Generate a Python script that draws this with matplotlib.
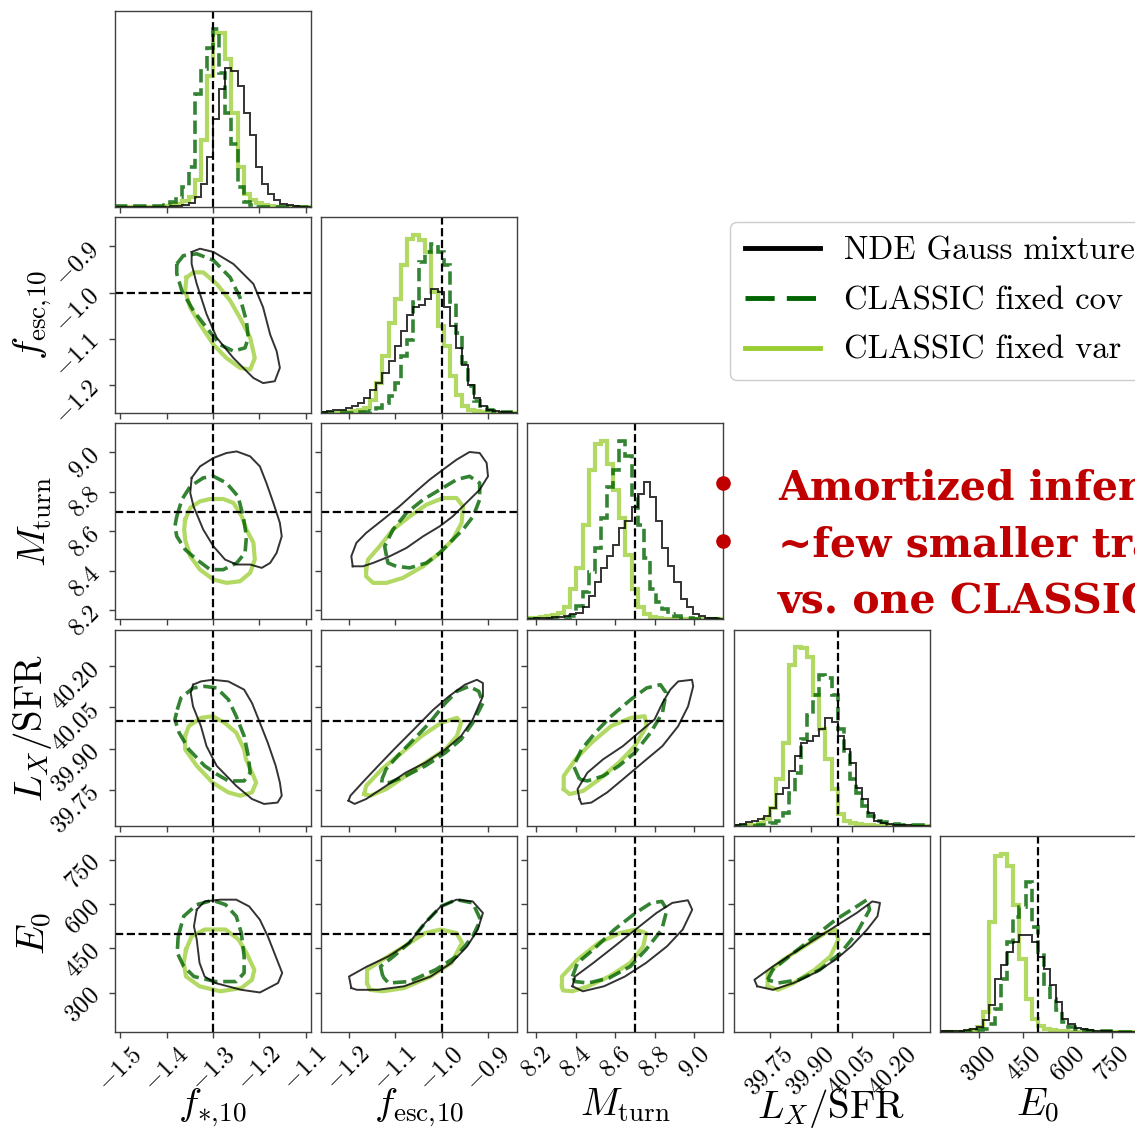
import numpy as np
import matplotlib
matplotlib.use('Agg')
import matplotlib.pyplot as plt
from matplotlib.lines import Line2D

plt.rcParams['font.family'] = 'serif'
plt.rcParams['font.serif'] = ['cmr10', 'DejaVu Serif']
plt.rcParams['mathtext.fontset'] = 'cm'
plt.rcParams['axes.unicode_minus'] = False
plt.rcParams['axes.linewidth'] = 1.0
plt.rcParams['axes.edgecolor'] = '0.25'

# parametres, verites, bornes des axes
labels = [r'$f_{*,\!10}$', r'$f_{\rm esc,\!10}$', r'$M_{\rm turn}$', r'$L_X/{\rm SFR}$', r'$E_0$']
truths = [-1.3, -1.0, 8.7, 40.0, 500]
ranges = [(-1.511, -1.089), (-1.260, -0.837), (8.154, 9.147), (39.619, 40.334), (168, 831)]
ticks = [[-1.5, -1.4, -1.3, -1.2, -1.1], [-1.2, -1.1, -1.0, -0.9], [8.2, 8.4, 8.6, 8.8, 9.0],
         [39.75, 39.90, 40.05, 40.20], [300, 450, 600, 750]]
tick_labels = [['-1.5', '-1.4', '-1.3', '-1.2', '-1.1'], ['-1.2', '-1.1', '-1.0', '-0.9'],
               ['8.2', '8.4', '8.6', '8.8', '9.0'], ['39.75', '39.90', '40.05', '40.20'],
               ['300', '450', '600', '750']]
series_names = ['NDE Gauss mixture', 'CLASSIC fixed cov', 'CLASSIC fixed var']

# histogrammes 1D (32 classes sur la plage de l'axe)
h_fstar_nde = [0, 0, 0, 0, 0, 0, 0, 0, 0, 0.7, 1, 1.7, 4, 10, 23, 50, 87, 117, 138, 135, 120, 93, 72, 40, 23, 13, 7, 3, 2, 1, 0.3, 0]
h_fstar_cov = [0.5, 0.5, 0.5, 0.5, 0.5, 0.5, 0.5, 0.5, 2, 5, 10, 20, 40, 112, 137, 158, 177, 133, 93, 63, 20, 5, 2, 0, 0, 0, 0, 0, 0, 0, 0, 0]
h_fstar_var = [0, 0, 0, 0, 0, 0, 0, 0, 1, 1.7, 2.7, 6, 10, 27, 67, 130, 173, 173, 147, 93, 40, 13, 7, 4, 2, 1, 0, 0, 0, 0, 0, 0]

h_fesc_nde = [1, 1.7, 2.7, 3.3, 5, 6.7, 10, 15, 23, 30, 40, 52, 67, 82, 98, 105, 107, 113, 123, 120, 105, 87, 65, 48, 28, 15, 7, 3, 2, 1, 0.7, 0]
h_fesc_cov = [0.3, 0.3, 0.3, 0.3, 0.5, 0.5, 0.7, 1, 1.7, 5, 10, 17, 30, 57, 73, 110, 150, 160, 168, 160, 147, 110, 80, 50, 27, 12, 5, 3, 2, 1, 0.7, 0.3]
h_fesc_var = [0, 0, 0.3, 0.7, 1, 1.7, 3.3, 5, 13, 30, 57, 90, 113, 147, 173, 177, 172, 160, 120, 87, 67, 37, 18, 7, 3, 2, 1, 0, 0, 0, 0, 0]

h_mturn_nde = [0.7, 1, 1.3, 1.7, 2, 2.7, 3.3, 5, 6.7, 12, 23, 37, 50, 62, 73, 90, 97, 110, 123, 135, 120, 97, 70, 52, 37, 20, 12, 5, 3, 1.7, 1, 0.3]
h_mturn_cov = [0.3, 0.3, 0.3, 0.3, 0.3, 1, 1.7, 3.3, 13, 27, 47, 70, 100, 130, 147, 175, 160, 120, 93, 60, 30, 17, 10, 5, 3.3, 1.7, 1, 0.7, 0.3, 0, 0, 0]
h_mturn_var = [1, 1.7, 2.3, 3.3, 4.3, 6.7, 12, 30, 50, 93, 147, 172, 175, 153, 127, 100, 63, 30, 12, 5, 2.7, 1.3, 0.7, 0.3, 0, 0, 0, 0, 0, 0, 0, 0]

h_lx_nde = [1, 2, 3.3, 5, 6.7, 10, 18, 32, 38, 55, 70, 83, 85, 90, 97, 107, 103, 90, 77, 63, 38, 27, 13, 5, 2.7, 1.7, 1, 0.7, 0.3, 0, 0, 0]
h_lx_cov = [0, 0, 0, 0, 0.3, 1, 2.7, 5, 13, 33, 53, 87, 110, 130, 150, 147, 130, 97, 73, 47, 33, 20, 10, 5, 3.3, 2, 1.3, 1, 0.7, 0.3, 0.3, 0]
h_lx_var = [0, 0, 0.3, 1, 2.7, 6.7, 18, 47, 83, 160, 178, 177, 168, 130, 97, 67, 37, 12, 5, 2.7, 1.7, 1, 0.7, 0, 0, 0, 0, 0, 0, 0, 0, 0]

h_e0_nde = [0.7, 1, 1, 1.3, 1.7, 2.7, 5, 12, 27, 53, 67, 80, 90, 97, 97, 90, 75, 63, 47, 30, 13, 8, 4, 2.7, 1.7, 1.3, 1, 0.7, 0.3, 0, 0, 0]
h_e0_cov = [0.3, 0.3, 0.3, 0.3, 0.3, 0.3, 1.7, 3.3, 8, 23, 53, 90, 115, 125, 150, 105, 80, 45, 33, 22, 10, 5, 2.7, 1.7, 1, 1, 0.7, 0.7, 0.3, 0.3, 0, 0]
h_e0_var = [0, 0, 0, 0, 0, 2, 5, 20, 110, 177, 179, 167, 127, 73, 33, 13, 6, 2.7, 1.7, 1, 0.7, 0, 0, 0, 0, 0, 0, 0, 0, 0, 0, 0]

# contours 2D (x, y)
c_fesc_fstar_nde = [(-1.346, -0.912), (-1.328, -0.905), (-1.299, -0.912), (-1.256, -0.938), (-1.213, -0.981), (-1.192, -1.032), (-1.177, -1.090), (-1.163, -1.126), (-1.156, -1.162), (-1.167, -1.191), (-1.192, -1.195), (-1.213, -1.184), (-1.256, -1.141), (-1.292, -1.097), (-1.314, -1.046), (-1.335, -0.981), (-1.346, -0.938)]
c_fesc_fstar_cov = [(-1.378, -0.938), (-1.364, -0.920), (-1.335, -0.916), (-1.299, -0.930), (-1.263, -0.967), (-1.242, -1.010), (-1.228, -1.061), (-1.224, -1.097), (-1.231, -1.119), (-1.256, -1.126), (-1.285, -1.112), (-1.314, -1.075), (-1.342, -1.039), (-1.367, -0.996), (-1.378, -0.959)]
c_fesc_fstar_var = [(-1.357, -0.967), (-1.342, -0.956), (-1.321, -0.956), (-1.292, -0.981), (-1.263, -1.017), (-1.242, -1.054), (-1.220, -1.097), (-1.210, -1.141), (-1.220, -1.166), (-1.242, -1.162), (-1.271, -1.141), (-1.299, -1.112), (-1.328, -1.068), (-1.349, -1.032), (-1.360, -0.996)]

c_mturn_fstar_nde = [(-1.346, 8.871), (-1.328, 8.929), (-1.299, 8.972), (-1.271, 8.997), (-1.249, 9.005), (-1.220, 8.980), (-1.199, 8.929), (-1.185, 8.845), (-1.170, 8.744), (-1.156, 8.643), (-1.152, 8.575), (-1.163, 8.491), (-1.177, 8.440), (-1.195, 8.415), (-1.220, 8.432), (-1.249, 8.432), (-1.274, 8.457), (-1.299, 8.524), (-1.321, 8.609), (-1.342, 8.727), (-1.349, 8.795)]
c_mturn_fstar_cov = [(-1.378, 8.676), (-1.367, 8.761), (-1.349, 8.828), (-1.321, 8.871), (-1.299, 8.879), (-1.271, 8.845), (-1.246, 8.777), (-1.235, 8.676), (-1.228, 8.575), (-1.231, 8.491), (-1.249, 8.440), (-1.278, 8.406), (-1.306, 8.406), (-1.335, 8.457), (-1.360, 8.508), (-1.378, 8.575), (-1.382, 8.626)]
c_mturn_fstar_var = [(-1.360, 8.659), (-1.349, 8.719), (-1.328, 8.752), (-1.306, 8.764), (-1.278, 8.764), (-1.256, 8.744), (-1.238, 8.676), (-1.228, 8.609), (-1.213, 8.542), (-1.210, 8.457), (-1.220, 8.390), (-1.242, 8.347), (-1.271, 8.339), (-1.299, 8.356), (-1.328, 8.406), (-1.349, 8.474), (-1.360, 8.558), (-1.362, 8.609)]

c_mturn_fesc_nde = [(-1.192, 8.423), (-1.195, 8.474), (-1.184, 8.542), (-1.163, 8.592), (-1.127, 8.659), (-1.091, 8.727), (-1.055, 8.803), (-1.026, 8.862), (-0.997, 8.913), (-0.968, 8.963), (-0.940, 9.002), (-0.918, 8.997), (-0.903, 8.947), (-0.900, 8.879), (-0.918, 8.811), (-0.947, 8.744), (-0.976, 8.676), (-1.004, 8.626), (-1.040, 8.575), (-1.076, 8.516), (-1.112, 8.474), (-1.148, 8.440), (-1.170, 8.423)]
c_mturn_fesc_cov = [(-1.119, 8.474), (-1.123, 8.524), (-1.105, 8.609), (-1.076, 8.693), (-1.040, 8.761), (-1.004, 8.811), (-0.968, 8.862), (-0.940, 8.879), (-0.918, 8.845), (-0.918, 8.761), (-0.932, 8.676), (-0.954, 8.609), (-0.983, 8.542), (-1.004, 8.491), (-1.033, 8.440), (-1.069, 8.415), (-1.098, 8.423), (-1.116, 8.440)]
c_mturn_fesc_var = [(-1.163, 8.406), (-1.159, 8.457), (-1.134, 8.524), (-1.105, 8.609), (-1.069, 8.676), (-1.033, 8.735), (-0.997, 8.769), (-0.968, 8.769), (-0.954, 8.727), (-0.957, 8.643), (-0.976, 8.558), (-1.004, 8.491), (-1.040, 8.423), (-1.084, 8.364), (-1.119, 8.339), (-1.148, 8.339), (-1.163, 8.372)]

c_lx_fstar_nde = [(-1.343, 40.133), (-1.326, 40.145), (-1.301, 40.151), (-1.267, 40.145), (-1.233, 40.115), (-1.216, 40.066), (-1.199, 39.994), (-1.182, 39.921), (-1.165, 39.837), (-1.156, 39.776), (-1.152, 39.728), (-1.161, 39.703), (-1.190, 39.698), (-1.216, 39.716), (-1.250, 39.764), (-1.292, 39.837), (-1.314, 39.909), (-1.326, 39.982), (-1.343, 40.054), (-1.348, 40.103)]
c_lx_fstar_cov = [(-1.377, 40.042), (-1.369, 40.085), (-1.343, 40.121), (-1.318, 40.127), (-1.292, 40.121), (-1.267, 40.079), (-1.250, 40.018), (-1.233, 39.946), (-1.224, 39.873), (-1.220, 39.812), (-1.233, 39.782), (-1.267, 39.782), (-1.292, 39.807), (-1.318, 39.837), (-1.352, 39.897), (-1.373, 39.958), (-1.382, 40.006)]
c_lx_fstar_var = [(-1.360, 39.946), (-1.352, 39.982), (-1.326, 40.012), (-1.301, 40.018), (-1.275, 39.994), (-1.250, 39.958), (-1.233, 39.897), (-1.229, 39.861), (-1.216, 39.812), (-1.207, 39.776), (-1.216, 39.740), (-1.241, 39.728), (-1.267, 39.740), (-1.301, 39.776), (-1.335, 39.837), (-1.360, 39.897)]

c_lx_fesc_nde = [(-1.201, 39.710), (-1.197, 39.728), (-1.171, 39.776), (-1.137, 39.837), (-1.103, 39.897), (-1.060, 39.970), (-1.018, 40.042), (-0.984, 40.091), (-0.950, 40.133), (-0.924, 40.151), (-0.911, 40.139), (-0.911, 40.091), (-0.933, 40.006), (-0.958, 39.946), (-0.992, 39.897), (-1.035, 39.849), (-1.078, 39.812), (-1.120, 39.764), (-1.163, 39.716), (-1.188, 39.698)]
c_lx_fesc_cov = [(-1.129, 39.788), (-1.120, 39.825), (-1.095, 39.873), (-1.060, 39.934), (-1.026, 39.994), (-0.992, 40.066), (-0.967, 40.109), (-0.941, 40.127), (-0.920, 40.109), (-0.911, 40.066), (-0.933, 39.994), (-0.958, 39.934), (-0.992, 39.885), (-1.035, 39.837), (-1.078, 39.800), (-1.112, 39.776), (-1.129, 39.776)]
c_lx_fesc_var = [(-1.167, 39.734), (-1.163, 39.764), (-1.129, 39.825), (-1.086, 39.885), (-1.043, 39.946), (-1.001, 39.994), (-0.967, 40.012), (-0.958, 39.994), (-0.967, 39.946), (-0.992, 39.897), (-1.035, 39.849), (-1.078, 39.800), (-1.120, 39.752), (-1.154, 39.728)]

c_lx_mturn_nde = [(8.418, 39.716), (8.408, 39.752), (8.458, 39.812), (8.538, 39.861), (8.638, 39.909), (8.718, 39.958), (8.798, 40.006), (8.838, 40.066), (8.878, 40.115), (8.918, 40.145), (8.988, 40.151), (8.994, 40.127), (8.968, 40.054), (8.918, 39.982), (8.838, 39.909), (8.738, 39.849), (8.638, 39.788), (8.558, 39.740), (8.478, 39.703), (8.428, 39.698)]
c_lx_mturn_cov = [(8.418, 39.788), (8.388, 39.837), (8.428, 39.897), (8.498, 39.958), (8.578, 40.018), (8.678, 40.079), (8.758, 40.121), (8.828, 40.133), (8.857, 40.103), (8.838, 40.030), (8.778, 39.958), (8.698, 39.885), (8.618, 39.837), (8.538, 39.800), (8.458, 39.782)]
c_lx_mturn_var = [(8.338, 39.752), (8.338, 39.800), (8.398, 39.861), (8.478, 39.921), (8.578, 39.982), (8.678, 40.012), (8.748, 40.018), (8.758, 39.982), (8.698, 39.909), (8.618, 39.849), (8.518, 39.788), (8.438, 39.746), (8.368, 39.734)]

c_e0_fstar_nde = [(-1.335, 581), (-1.318, 609), (-1.284, 615), (-1.250, 615), (-1.222, 592), (-1.199, 547), (-1.182, 491), (-1.165, 423), (-1.151, 367), (-1.160, 333), (-1.199, 301), (-1.239, 310), (-1.295, 333), (-1.318, 355), (-1.329, 401), (-1.335, 480), (-1.341, 525)]
c_e0_fstar_cov = [(-1.375, 491), (-1.363, 559), (-1.335, 598), (-1.301, 613), (-1.273, 598), (-1.250, 559), (-1.239, 502), (-1.233, 423), (-1.233, 367), (-1.250, 338), (-1.295, 338), (-1.341, 355), (-1.363, 389), (-1.377, 435)]
c_e0_fstar_var = [(-1.358, 446), (-1.346, 491), (-1.318, 514), (-1.273, 514), (-1.245, 480), (-1.228, 435), (-1.211, 378), (-1.216, 344), (-1.239, 316), (-1.284, 305), (-1.329, 322), (-1.358, 355), (-1.363, 401)]

c_e0_fesc_nde = [(-1.195, 316), (-1.200, 355), (-1.161, 389), (-1.115, 423), (-1.070, 469), (-1.036, 536), (-1.002, 592), (-0.968, 615), (-0.933, 609), (-0.911, 570), (-0.922, 514), (-0.945, 457), (-0.979, 401), (-1.024, 355), (-1.081, 322), (-1.138, 310), (-1.183, 310)]
c_e0_fesc_cov = [(-1.127, 355), (-1.132, 389), (-1.104, 423), (-1.070, 469), (-1.036, 536), (-1.002, 592), (-0.968, 615), (-0.933, 604), (-0.916, 547), (-0.933, 491), (-0.968, 423), (-1.013, 378), (-1.070, 338), (-1.115, 333)]
c_e0_fesc_var = [(-1.161, 333), (-1.161, 378), (-1.127, 412), (-1.081, 457), (-1.036, 502), (-1.002, 514), (-0.968, 502), (-0.956, 469), (-0.979, 401), (-1.024, 355), (-1.081, 316), (-1.127, 305), (-1.155, 310)]

c_e0_mturn_nde = [(8.382, 322), (8.395, 355), (8.488, 401), (8.595, 457), (8.702, 514), (8.808, 570), (8.888, 604), (8.967, 613), (8.989, 581), (8.941, 514), (8.861, 457), (8.755, 401), (8.648, 355), (8.542, 322), (8.435, 305)]
c_e0_mturn_cov = [(8.382, 355), (8.408, 401), (8.488, 446), (8.595, 514), (8.702, 570), (8.781, 604), (8.835, 609), (8.861, 581), (8.835, 514), (8.755, 446), (8.675, 389), (8.568, 350), (8.462, 333), (8.395, 338)]
c_e0_mturn_var = [(8.329, 322), (8.329, 355), (8.408, 412), (8.515, 469), (8.622, 502), (8.702, 514), (8.755, 502), (8.741, 457), (8.675, 401), (8.568, 355), (8.462, 322), (8.382, 305), (8.334, 308)]

c_e0_lx_nde = [(39.705, 322), (39.695, 344), (39.762, 389), (39.838, 435), (39.915, 480), (39.991, 525), (40.068, 570), (40.125, 609), (40.153, 604), (40.144, 559), (40.106, 514), (40.048, 457), (39.991, 412), (39.915, 367), (39.838, 333), (39.762, 310)]
c_e0_lx_cov = [(39.743, 344), (39.762, 378), (39.838, 435), (39.915, 491), (39.991, 547), (40.068, 592), (40.106, 615), (40.115, 581), (40.068, 502), (40.010, 435), (39.934, 378), (39.858, 344), (39.781, 333)]
c_e0_lx_var = [(39.743, 322), (39.743, 367), (39.800, 412), (39.877, 457), (39.953, 502), (39.991, 514), (40.001, 480), (39.972, 423), (39.915, 378), (39.838, 333), (39.781, 310)]

hists = [
    [h_fstar_nde, h_fstar_cov, h_fstar_var],
    [h_fesc_nde, h_fesc_cov, h_fesc_var],
    [h_mturn_nde, h_mturn_cov, h_mturn_var],
    [h_lx_nde, h_lx_cov, h_lx_var],
    [h_e0_nde, h_e0_cov, h_e0_var],
]
contours = {
    (1, 0): [c_fesc_fstar_nde, c_fesc_fstar_cov, c_fesc_fstar_var],
    (2, 0): [c_mturn_fstar_nde, c_mturn_fstar_cov, c_mturn_fstar_var],
    (2, 1): [c_mturn_fesc_nde, c_mturn_fesc_cov, c_mturn_fesc_var],
    (3, 0): [c_lx_fstar_nde, c_lx_fstar_cov, c_lx_fstar_var],
    (3, 1): [c_lx_fesc_nde, c_lx_fesc_cov, c_lx_fesc_var],
    (3, 2): [c_lx_mturn_nde, c_lx_mturn_cov, c_lx_mturn_var],
    (4, 0): [c_e0_fstar_nde, c_e0_fstar_cov, c_e0_fstar_var],
    (4, 1): [c_e0_fesc_nde, c_e0_fesc_cov, c_e0_fesc_var],
    (4, 2): [c_e0_mturn_nde, c_e0_mturn_cov, c_e0_mturn_var],
    (4, 3): [c_e0_lx_nde, c_e0_lx_cov, c_e0_lx_var],
}

# styles : NDE, fixed cov, fixed var
styles = [
    dict(color='k', alpha=0.8, lw=1.4, ls='-'),
    dict(color='darkgreen', alpha=0.8, lw=2.6, ls='--'),
    dict(color='yellowgreen', alpha=0.75, lw=3.0, ls='-'),
]
draw_order = [2, 1, 0]

W, H = 1135, 1131
fig = plt.figure(figsize=(W / 100, H / 100), dpi=100)

for i in range(5):
    for j in range(i + 1):
        left = (115 + 206.2 * j) / W
        top = 11 + 206.2 * i
        ax = fig.add_axes([left, 1 - (top + 196) / H, 196 / W, 196 / H])
        ax.set_xlim(ranges[j])
        if i == j:
            edges = np.linspace(ranges[j][0], ranges[j][1], len(hists[j][0]) + 1)
            for k in draw_order:
                ax.stairs(hists[j][k], edges, **styles[k])
            ax.set_ylim(0, 1.1 * max(max(h) for h in hists[j]))
            ax.set_yticks([])
        else:
            for k in draw_order:
                pts = contours[(i, j)][k] + [contours[(i, j)][k][0]]
                ax.plot([p[0] for p in pts], [p[1] for p in pts], **styles[k])
            ax.set_ylim(ranges[i])
            ax.axhline(truths[i], color='k', ls='--', lw=1.6)
            ax.set_yticks(ticks[i])
            if j == 0:
                ax.set_yticklabels(['$' + t + '$' for t in tick_labels[i]], rotation=45, fontsize=18)
                ax.set_ylabel(labels[i], fontsize=28)
                ax.yaxis.set_label_coords(-0.31, 0.5)
            else:
                ax.set_yticklabels([])
        ax.axvline(truths[j], color='k', ls='--', lw=1.6)
        ax.set_xticks(ticks[j])
        if i == 4:
            ax.set_xticklabels(['$' + t + '$' for t in tick_labels[j]], rotation=45, fontsize=18)
            ax.set_xlabel(labels[j], fontsize=28)
            ax.xaxis.set_label_coords(0.5, -0.28)
        else:
            ax.set_xticklabels([])
        ax.tick_params(color='0.25', width=1.0, length=4.5)

# legende
handles = [
    Line2D([], [], color='k', lw=3.5),
    Line2D([], [], color='darkgreen', lw=3.5, ls=(0, (6, 2.5))),
    Line2D([], [], color='yellowgreen', lw=3.5),
]
fig.legend(handles, series_names, loc='upper left', bbox_to_anchor=(730 / W, 1 - 222 / H),
           fontsize=23.5, frameon=True, fancybox=True, edgecolor='0.8', framealpha=1,
           borderaxespad=0, borderpad=0.45, handlelength=2.3, handletextpad=0.75,
           labelspacing=0.63)

# texte rouge de la diapo
red = '#C00000'
lines = ['Amortized inference', '~few smaller training sets', 'vs. one CLASSIC training set']
for n, txt in enumerate(lines):
    fig.text(778 / W, 1 - (500 + 56 * n) / H, txt, color=red, fontsize=29.5,
             fontweight='bold', family='DejaVu Serif', va='baseline', ha='left')
for yb in [483, 541]:
    fig.add_artist(Line2D([723 / W], [1 - yb / H], marker='o', color=red, markersize=9.5,
                          transform=fig.transFigure))

fig.savefig('out.png', dpi=100)
